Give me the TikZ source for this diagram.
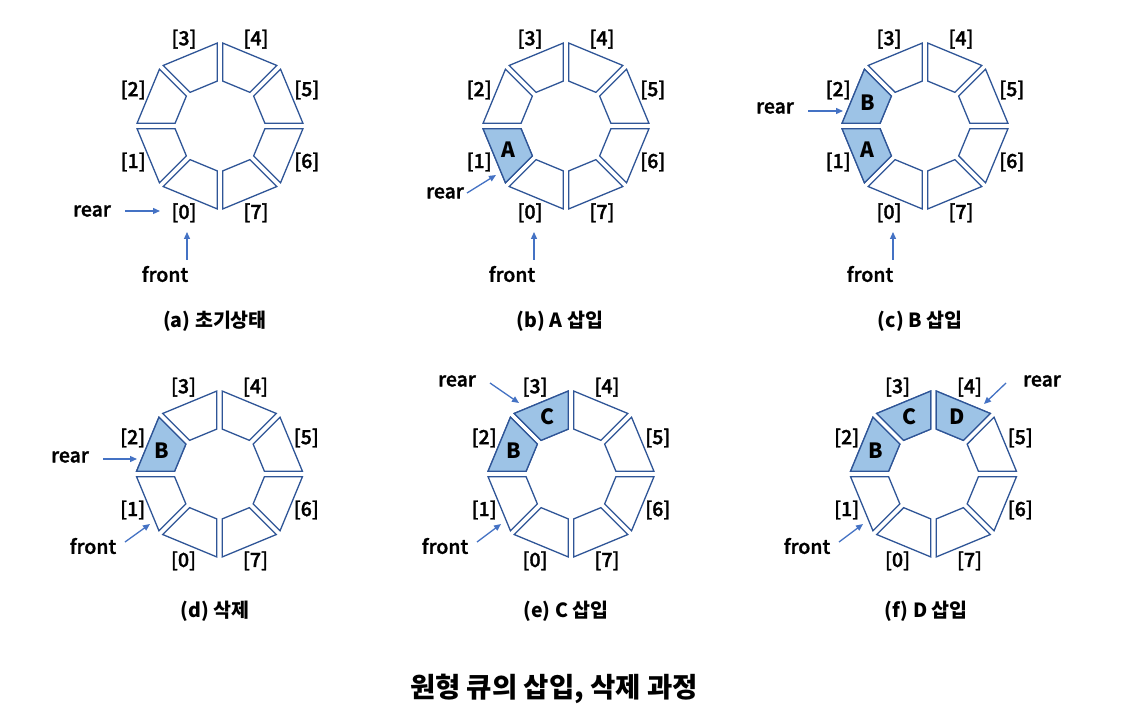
\documentclass[tikz,border=0pt]{standalone}
\usepackage{fontspec}
\setmainfont{Noto Sans CJK KR}
\IfFontExistsTF{Noto Sans CJK KR Medium}
  {\newfontfamily\lblfont{Noto Sans CJK KR Medium}[FakeBold=1.6]}
  {\newfontfamily\lblfont{Noto Sans CJK KR}[FakeBold=2.2]}
\usetikzlibrary{calc,arrows.meta}
\definecolor{segline}{HTML}{2F5597}
\definecolor{segfill}{HTML}{9DC3E6}
\definecolor{arrowc}{HTML}{4472C4}
\tikzset{
  seg/.style={draw=segline,line width=1.3pt,line join=miter,fill=white},
  segf/.style={draw=segline,line width=1.3pt,line join=miter,fill=segfill},
  idx/.style={font=\fontsize{19.5}{22}\lblfont,inner sep=0pt},
  ptr/.style={font=\fontsize{19.5}{22}\lblfont,inner sep=0pt},
  letter/.style={font=\fontsize{21}{25}\selectfont\bfseries,inner sep=0pt},
  caption/.style={font=\fontsize{19.5}{23}\selectfont\bfseries,inner sep=0pt},
  title/.style={font=\fontsize{27.5}{32}\selectfont\bfseries,inner sep=0pt},
  parrow/.style={draw=arrowc,line width=1.3pt,-{Triangle[length=7pt,width=6pt]}}
}
\newcommand{\segpath}[3]{% #1 centre name, #2 index, #3 style
  \pgfmathsetmacro{\aa}{225-45*#2}%
  \pgfmathsetmacro{\ab}{270-45*#2}%
  \path[#3] ($(#1)+(\aa+1.86:83)$) -- ($(#1)+(\ab-1.86:83)$) -- ($(#1)+(\ab-3.44:45)$) -- ($(#1)+(\aa+3.44:45)$) -- cycle;
}
\newcommand{\ring}[3]{% #1 name, #2 cx, #3 cy
  \coordinate (#1) at (#2,#3);
  \foreach \k in {0,...,7}{%
    \segpath{#1}{\k}{seg}%
    \pgfmathsetmacro{\am}{247.5-45*\k}%
    \node[idx] (#1-l\k) at ($(#1)+(\am:94)$) {[\k]};
  }
}
\newcommand{\fillseg}[3]{% #1 centre, #2 index, #3 letter
  \segpath{#1}{#2}{segf}%
  \pgfmathsetmacro{\am}{247.5-45*#2}%
  \node[letter] (#1-v#2) at ($(#1)+(\am:62)$) {#3};
}
\begin{document}
\begin{tikzpicture}[x=1pt,y=1pt]
\useasboundingbox (0,0) rectangle (1132,-719);
\fill[white] (0,0) rectangle (1132,-719);

% (a)
\ring{a}{220}{-126}
\node[ptr] (a-rear) at (92,-211) {rear};
\coordinate (a-rs) at (125,-211);
\coordinate (a-re) at (160,-211);
\draw[parrow] (a-rs) -- (a-re);
\node[ptr] (a-front) at (165,-274) {front};
\coordinate (a-fs) at (187,-260);
\coordinate (a-fe) at (187,-232);
\draw[parrow] (a-fs) -- (a-fe);
\node[caption] (a-cap) at (215,-321) {(a) 초기상태};

% (b)
\ring{b}{566}{-126}
\fillseg{b}{1}{A}
\node[ptr] (b-rear) at (445,-193) {rear};
\coordinate (b-rs) at (467,-193);
\coordinate (b-re) at (496,-175);
\draw[parrow] (b-rs) -- (b-re);
\node[ptr] (b-front) at (512,-274) {front};
\coordinate (b-fs) at (534,-260);
\coordinate (b-fe) at (534,-232);
\draw[parrow] (b-fs) -- (b-fe);
\node[caption] (b-cap) at (560,-321) {(b) A 삽입};

% (c)
\ring{c}{925}{-126}
\fillseg{c}{1}{A}
\fillseg{c}{2}{B}
\node[ptr] (c-rear) at (775,-108) {rear};
\coordinate (c-rs) at (808,-111);
\coordinate (c-re) at (843,-111);
\draw[parrow] (c-rs) -- (c-re);
\node[ptr] (c-front) at (870,-274) {front};
\coordinate (c-fs) at (893,-260);
\coordinate (c-fe) at (893,-232);
\draw[parrow] (c-fs) -- (c-fe);
\node[caption] (c-cap) at (920,-321) {(c) B 삽입};

% (d)
\ring{d}{219.5}{-474}
\fillseg{d}{2}{B}
\node[ptr] (d-rear) at (70,-457) {rear};
\coordinate (d-rs) at (103,-459);
\coordinate (d-re) at (137,-459);
\draw[parrow] (d-rs) -- (d-re);
\node[ptr] (d-front) at (93,-546) {front};
\coordinate (d-fs) at (125,-542);
\coordinate (d-fe) at (150,-524);
\draw[parrow] (d-fs) -- (d-fe);
\node[caption] (d-cap) at (215,-611) {(d) 삭제};

% (e)
\ring{e}{571}{-474}
\fillseg{e}{2}{B}
\fillseg{e}{3}{C}
\node[ptr] (e-rear) at (457,-381) {rear};
\coordinate (e-rs) at (490,-383);
\coordinate (e-re) at (519,-403);
\draw[parrow] (e-rs) -- (e-re);
\node[ptr] (e-front) at (445,-546) {front};
\coordinate (e-fs) at (477,-542);
\coordinate (e-fe) at (501,-524);
\draw[parrow] (e-fs) -- (e-fe);
\node[caption] (e-cap) at (566,-611) {(e) C 삽입};

% (f)
\ring{f}{933.5}{-474}
\fillseg{f}{2}{B}
\fillseg{f}{3}{C}
\fillseg{f}{4}{D}
\node[ptr] (f-rear) at (1042,-381) {rear};
\coordinate (f-rs) at (1006,-383);
\coordinate (f-re) at (984,-404);
\draw[parrow] (f-rs) -- (f-re);
\node[ptr] (f-front) at (807,-546) {front};
\coordinate (f-fs) at (839,-542);
\coordinate (f-fe) at (863,-524);
\draw[parrow] (f-fs) -- (f-fe);
\node[caption] (f-cap) at (926,-611) {(f) D 삽입};

\node[title] (title) at (554,-689) {원형 큐의 삽입, 삭제 과정};
\end{tikzpicture}
\end{document}
